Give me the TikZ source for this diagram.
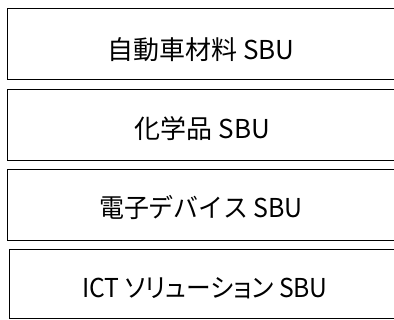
\documentclass[tikz,border=0pt]{standalone}
\usepackage{graphicx}
\usepackage{fontspec}
\setmainfont{Noto Sans CJK JP}
\newfontfamily\paltfont[RawFeature=+palt]{Noto Sans CJK JP}
\begin{document}
\begin{tikzpicture}[x=1pt,y=-1pt,
  sbubox/.style={draw=black,line width=1.1pt,rectangle,inner sep=0pt,anchor=north west},
  sbutext/.style={font=\fontsize{26}{30}\selectfont,inner sep=0pt,text=black}]
\useasboundingbox (0,0) rectangle (394,320);
\clip (0,0) rectangle (394,320);
\node[sbubox,minimum width=392pt,minimum height=71pt] (b1) at (7,8) {};
\node[sbubox,minimum width=392pt,minimum height=71pt] (b2) at (7,89) {};
\node[sbubox,minimum width=392pt,minimum height=71pt] (b3) at (7,169) {};
\node[sbubox,minimum width=390pt,minimum height=69pt] (b4) at (9,249) {};
\node[sbutext] (t1) at (201,50) {自動車材料 SBU};
\node[sbutext] (t2) at (202.5,128.5) {化学品 SBU};
\node[sbutext] (t3) at (201,207.5) {\scalebox{0.96}[1]{電子デバイス SBU}};
\node[sbutext] (t4) at (205,288) {\scalebox{0.95}[1]{\paltfont ICT ソリューション SBU}};
\end{tikzpicture}
\end{document}
